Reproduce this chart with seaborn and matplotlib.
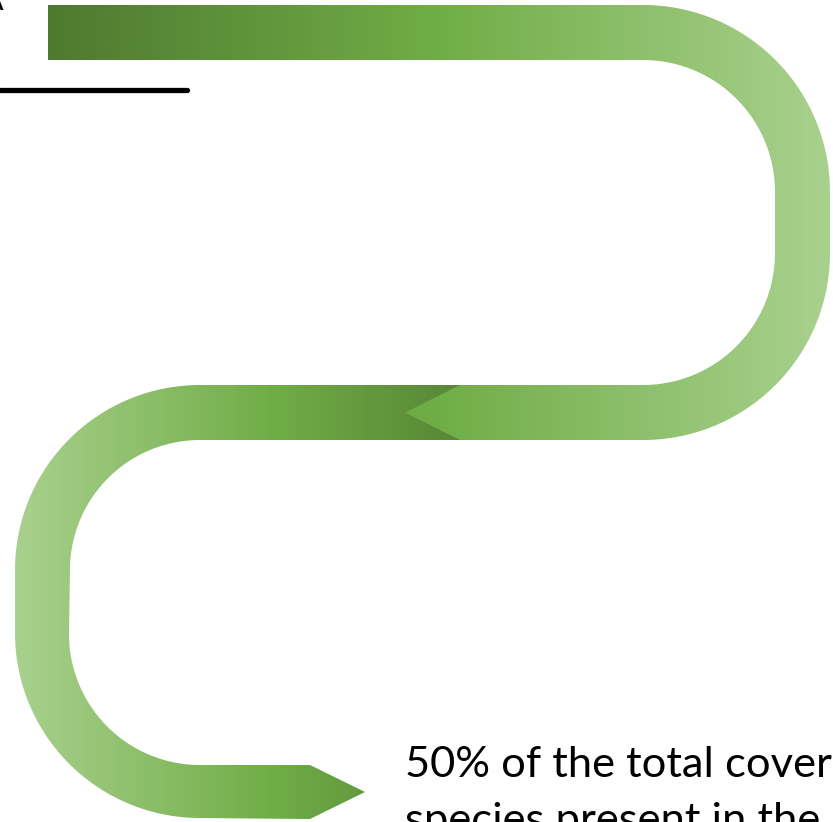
import numpy as np
import matplotlib
matplotlib.use("Agg")
import matplotlib.pyplot as plt
import seaborn as sns
from matplotlib.path import Path
from matplotlib.patches import PathPatch
from matplotlib.colors import LinearSegmentedColormap

# caption beside the lower arrow (second line runs off the bottom edge)
caption_lines = ["50% of the total cover", "species present in the"]

# gradient stops, left to right, for the two ribbons
upper_colors = ["#4e7a2f", "#70ad47", "#a9d18e"]
lower_colors = ["#a9d18e", "#70ad47", "#4f7b30"]

# short black rule at the top left
rule_x = [0, 187]
rule_y = [90, 90]


def arc(cx, cy, r, a0, a1, n=80):
    t = np.radians(np.linspace(a0, a1, n))
    return list(zip(cx + r * np.cos(t), cy + r * np.sin(t)))


def ribbon(ax, pts, colors):
    pts = np.array(pts + [pts[0]])
    codes = [Path.MOVETO] + [Path.LINETO] * (len(pts) - 2) + [Path.CLOSEPOLY]
    patch = PathPatch(Path(pts, codes), facecolor="none", edgecolor="none")
    ax.add_patch(patch)
    x0, x1 = pts[:, 0].min(), pts[:, 0].max()
    y0, y1 = pts[:, 1].min(), pts[:, 1].max()
    cmap = LinearSegmentedColormap.from_list("grn", colors)
    grad = np.linspace(0, 1, 512).reshape(1, -1)
    im = ax.imshow(grad, cmap=cmap, extent=(x0, x1, y1, y0),
                   aspect="auto", interpolation="bilinear")
    im.set_clip_path(patch)


def main():
    sns.set_theme(style="white")
    fig = plt.figure(figsize=(8.33, 8.22), dpi=100)
    ax = fig.add_axes([0, 0, 1, 1])

    # lower ribbon: left loop ending in an arrow pointing right
    lower = ([(525, 385)]
             + arc(200, 570, 185, -90, -180)
             + arc(200, 633, 185, 180, 90)
             + [(310, 819), (365, 792), (310, 765)]
             + arc(200, 634, 131, 90, 180)
             + arc(200, 570, 130, 180, 270)
             + [(525, 440)])
    ribbon(ax, lower, lower_colors)

    # upper ribbon: right loop ending in an arrow pointing left
    upper = ([(48, 5)]
             + arc(643, 192, 187, -90, 0)
             + arc(643, 253, 187, 0, 90)
             + [(460, 440), (405, 412.5), (460, 385)]
             + arc(643, 253, 132, 90, 0)
             + arc(643, 192, 132, 0, -90)
             + [(48, 60)])
    ribbon(ax, upper, upper_colors)

    sns.lineplot(x=rule_x, y=rule_y, color="black", lw=3.8, ax=ax)

    # tail of a heading letter that sits just off the left edge
    ax.text(4, 10, "A", fontsize=22, family="Lato", color="black",
            va="baseline", ha="right")

    ax.text(405, 777, caption_lines[0], fontsize=31.3, family="Lato",
            color="black", va="baseline", ha="left")
    ax.text(405, 833, caption_lines[1], fontsize=31.3, family="Lato",
            color="black", va="baseline", ha="left")

    ax.set_xlim(0, 833)
    ax.set_ylim(822, 0)
    ax.axis("off")
    fig.savefig("out.png", dpi=100, facecolor="white")
    plt.close(fig)


if __name__ == "__main__":
    main()
